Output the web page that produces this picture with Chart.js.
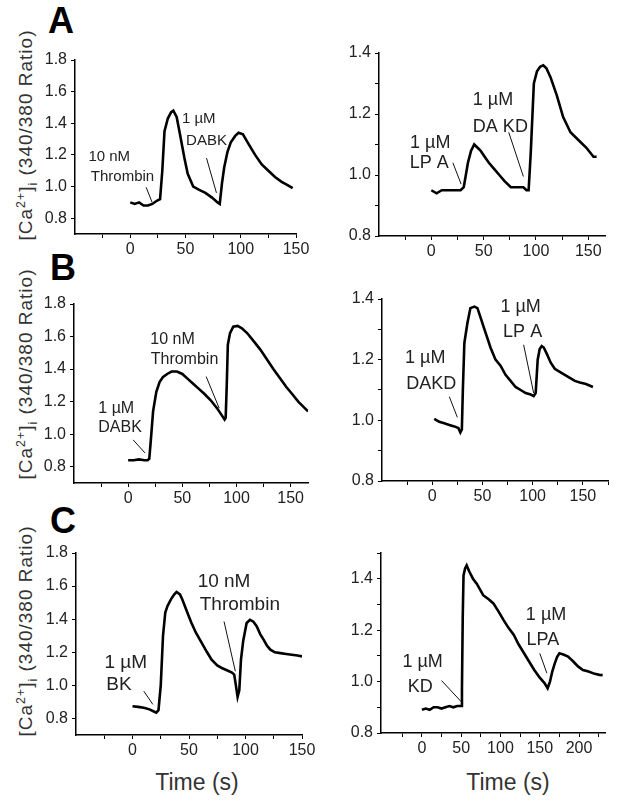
<!DOCTYPE html>
<html>
<head>
<meta charset="utf-8">
<script src="https://cdn.jsdelivr.net/npm/chart.js@4.4.1/dist/chart.umd.min.js"></script>
<style>
body { margin: 0; background: #fff; width: 618px; height: 808px; position: relative; overflow: hidden; font-family: 'Liberation Sans', Arial, sans-serif; }
canvas { position: absolute; }
.letter { position: absolute; font-weight: bold; font-size: 36px; line-height: 36px; color: #000; }
.ytitle { position: absolute; white-space: nowrap; font-size: 19px; letter-spacing: 1px; color: #333; transform: translate(-50%, -50%) rotate(-90deg); }
.xtitle { position: absolute; white-space: nowrap; font-size: 23px; line-height: 23px; color: #333; transform: translateX(-50%); }
sup, sub { font-size: 0.65em; line-height: 0; }
</style>
</head>
<body>
<div class="letter" style="left:48px;top:3px">A</div>
<div class="letter" style="left:50px;top:250px">B</div>
<div class="letter" style="left:50px;top:503px">C</div>
<div class="ytitle" style="left:26px;top:135px">[Ca<sup>2+</sup>]<sub>i</sub> (340/380 Ratio)</div>
<div class="ytitle" style="left:26px;top:374px">[Ca<sup>2+</sup>]<sub>i</sub> (340/380 Ratio)</div>
<div class="ytitle" style="left:26px;top:631px">[Ca<sup>2+</sup>]<sub>i</sub> (340/380 Ratio)</div>
<div class="xtitle" style="left:197px;top:771px">Time (s)</div>
<div class="xtitle" style="left:508px;top:771px">Time (s)</div>
<canvas id="aLeft"></canvas>
<canvas id="aRight"></canvas>
<canvas id="bLeft"></canvas>
<canvas id="bRight"></canvas>
<canvas id="cLeft"></canvas>
<canvas id="cRight"></canvas>
<script>
// traces: time (s) and 340/380 ratio
const aLeftT = [0, 4, 8, 12, 16, 20, 24, 27, 29, 31, 34, 37, 39, 42, 45, 49, 52, 57, 62, 68, 74, 79, 81, 83, 85, 88, 91, 95, 98, 102, 107, 113, 119, 125, 131, 137, 142, 147];
const aLeftV = [0.90, 0.89, 0.90, 0.88, 0.88, 0.89, 0.91, 0.92, 1.10, 1.35, 1.43, 1.47, 1.48, 1.44, 1.33, 1.18, 1.08, 1.00, 0.98, 0.96, 0.93, 0.90, 0.89, 1.02, 1.12, 1.22, 1.28, 1.32, 1.34, 1.33, 1.27, 1.20, 1.14, 1.10, 1.06, 1.03, 1.01, 0.99];

const aRightT = [0, 5, 10, 15, 20, 25, 28, 31, 33, 35, 38, 41, 44, 47, 51, 55, 60, 65, 70, 76, 82, 88, 91, 93, 95, 98, 101, 104, 107, 110, 114, 120, 126, 133, 142, 148, 155, 158];
const aRightV = [0.95, 0.94, 0.95, 0.95, 0.95, 0.95, 0.95, 0.96, 1.00, 1.04, 1.08, 1.10, 1.09, 1.08, 1.06, 1.04, 1.02, 1.00, 0.98, 0.96, 0.96, 0.96, 0.95, 0.95, 1.07, 1.30, 1.34, 1.355, 1.36, 1.35, 1.32, 1.26, 1.19, 1.14, 1.11, 1.09, 1.06, 1.06];

const bLeftT = [0, 5, 10, 15, 18, 19.5, 21, 23, 26, 29, 32, 36, 40, 45, 50, 55, 60, 65, 70, 76, 82, 86, 89, 90, 91, 92, 94, 97, 101, 105, 110, 116, 122, 128, 134, 140, 146, 151, 157, 163, 166];
const bLeftV = [0.84, 0.84, 0.845, 0.84, 0.84, 0.85, 0.97, 1.14, 1.26, 1.32, 1.35, 1.37, 1.385, 1.385, 1.37, 1.34, 1.31, 1.28, 1.25, 1.21, 1.16, 1.12, 1.09, 1.10, 1.30, 1.55, 1.62, 1.66, 1.665, 1.65, 1.62, 1.57, 1.52, 1.46, 1.40, 1.345, 1.29, 1.25, 1.20, 1.16, 1.14];

const bRightT = [2, 7, 12, 17, 22, 26, 28, 29.5, 30.5, 32, 35, 38, 42, 45, 48, 51, 55, 58, 63, 68, 73, 78, 83, 88, 93, 98, 101, 103, 105, 107, 109, 111, 114, 118, 122, 127, 132, 137, 142, 147, 153, 160];
const bRightV = [1.005, 0.995, 0.99, 0.985, 0.98, 0.975, 0.96, 0.97, 1.10, 1.255, 1.32, 1.37, 1.375, 1.37, 1.34, 1.31, 1.27, 1.24, 1.20, 1.18, 1.15, 1.13, 1.11, 1.10, 1.09, 1.085, 1.08, 1.09, 1.20, 1.235, 1.245, 1.24, 1.22, 1.19, 1.17, 1.16, 1.15, 1.14, 1.13, 1.125, 1.12, 1.11];

const cLeftT = [0, 5, 10, 15, 18, 21, 23, 25, 27, 29, 31, 34, 37, 39, 42, 44, 48, 52, 56, 61, 66, 70, 75, 79, 84, 88, 90, 91.5, 93, 94.5, 96, 98, 101, 104, 107, 110, 113, 116, 119, 122, 126, 131, 136, 141, 146, 150];
const cLeftV = [0.874, 0.87, 0.865, 0.855, 0.845, 0.835, 0.85, 1.00, 1.30, 1.44, 1.48, 1.52, 1.55, 1.565, 1.55, 1.52, 1.45, 1.38, 1.32, 1.26, 1.20, 1.155, 1.12, 1.105, 1.09, 1.077, 1.065, 1.00, 0.93, 0.97, 1.155, 1.27, 1.377, 1.396, 1.385, 1.356, 1.31, 1.276, 1.24, 1.216, 1.20, 1.195, 1.19, 1.185, 1.18, 1.175];

const cRightT = [0, 5, 10, 15, 20, 25, 30, 35, 40, 45, 50, 51, 52, 53, 55, 57, 60, 65, 70, 78, 85, 91, 98, 104, 110, 117, 123, 130, 136, 143, 150, 156, 160, 163, 166, 169, 172, 175, 180, 186, 192, 199, 205, 212, 220, 226, 230];
const cRightV = [0.89, 0.895, 0.89, 0.90, 0.90, 0.895, 0.90, 0.905, 0.90, 0.905, 0.905, 0.97, 1.25, 1.413, 1.44, 1.452, 1.43, 1.40, 1.38, 1.336, 1.32, 1.304, 1.27, 1.239, 1.21, 1.181, 1.145, 1.11, 1.08, 1.045, 1.015, 0.994, 0.974, 1.00, 1.04, 1.07, 1.095, 1.11, 1.105, 1.097, 1.08, 1.058, 1.045, 1.039, 1.03, 1.026, 1.025];

// tick values
const xTicks150 = [-25, 0, 25, 50, 75, 100, 125, 150];
const xTicks175 = [-25, 0, 25, 50, 75, 100, 125, 150, 175];
const xTicks225 = [-25, 0, 25, 50, 75, 100, 125, 150, 175, 200, 225];
const yTicksLeft = [0.8, 1.0, 1.2, 1.4, 1.6, 1.8];
const yTicksRight = [0.8, 0.9, 1.0, 1.1, 1.2, 1.3, 1.4];
const yTicksRightC = [0.8, 0.9, 1.0, 1.1, 1.2, 1.3, 1.4, 1.5];

// agonist labels [text, time, ratio] and pointer lines [t0, v0, t1, v1]
const aLeftNotes = [['10 nM', -19, 1.19], ['Thrombin', -7, 1.06], ['1 µM', 62, 1.43], ['DABK', 69, 1.29]];
const aLeftPtrs = [[14.4, 0.995, 19.8, 0.90], [69, 1.18, 78, 0.96]];
const aRightNotes = [['1 µM', -1, 1.105], ['LP A', -2, 1.04], ['1 µM', 59, 1.246], ['DA KD', 66, 1.157]];
const aRightPtrs = [[20.6, 1.04, 28.5, 0.97], [74, 1.14, 88, 0.995]];
const bLeftNotes = [['1 µM', -11, 1.16], ['DABK', -7.5, 1.04], ['10 nM', 41, 1.58], ['Thrombin', 52, 1.46]];
const bLeftPtrs = [[4.6, 0.965, 15.5, 0.885], [72, 1.354, 84, 1.16]];
const bRightNotes = [['1 µM', -7, 1.205], ['DAKD', -1, 1.12], ['1 µM', 88, 1.375], ['LP A', 90, 1.29]];
const bRightPtrs = [[17, 1.078, 25, 1.01], [91, 1.249, 101, 1.09]];
const cLeftNotes = [['1 µM', -6, 1.137], ['BK', -12, 1.005], ['10 nM', 81, 1.627], ['Thrombin', 95, 1.487]];
const cLeftPtrs = [[10, 0.965, 18, 0.885], [81, 1.386, 91, 1.085]];
const cRightNotes = [['1 µM', 1, 1.077], ['KD', -2, 0.98], ['1 µM', 158, 1.259], ['LPA', 154, 1.162]];
const cRightPtrs = [[25, 1.004, 50, 0.922], [150, 1.11, 159, 1.033]];

Chart.defaults.font.family = "'Liberation Sans', Arial, sans-serif";
Chart.defaults.color = '#222';
Chart.defaults.animation = false;

const notesPlugin = {
    id: 'notes',
    afterDatasetsDraw(chart, args, opts) {
        const ctx = chart.ctx;
        const xs = chart.scales.x, ys = chart.scales.y;
        ctx.save();
        ctx.fillStyle = '#222';
        ctx.font = opts.size + "px 'Liberation Sans', Arial, sans-serif";
        ctx.textAlign = 'center';
        ctx.textBaseline = 'middle';
        opts.notes.forEach(function (n) {
            ctx.fillText(n[0], xs.getPixelForValue(n[1]), ys.getPixelForValue(n[2]));
        });
        ctx.restore();
    }
};

function makePanel(id, area, xMin, xMax, xTicks, yMin, yMax, yTicks, times, values, ptrs, notes, noteSize) {
    const canvas = document.getElementById(id);
    const left = area[0] - 50, top = area[1] - 14;
    canvas.width = area[2] + 22 - left;
    canvas.height = area[3] + 30 - top;
    canvas.style.left = left + 'px';
    canvas.style.top = top + 'px';

    let datasets = [{
        data: times.map(function (t, i) { return { x: t, y: values[i] } }),
        borderColor: '#000',
        borderWidth: 2.6,
        pointRadius: 0,
        tension: 0
    }];
    ptrs.forEach(function (p) {
        datasets.push({
            data: [{ x: p[0], y: p[1] }, { x: p[2], y: p[3] }],
            borderColor: '#111',
            borderWidth: 1,
            pointRadius: 0
        });
    });

    new Chart(canvas, {
        type: 'line',
        data: { datasets: datasets },
        options: {
            responsive: false,
            devicePixelRatio: 1,
            layout: { padding: { left: 0, top: 14, right: 22, bottom: 0 } },
            plugins: {
                legend: { display: false },
                tooltip: { enabled: false },
                notes: { notes: notes, size: noteSize }
            },
            scales: {
                x: {
                    type: 'linear',
                    min: xMin,
                    max: xMax,
                    afterBuildTicks: function (s) { s.ticks = xTicks.map(function (v) { return { value: v } }) },
                    afterFit: function (s) { s.height = 30 },
                    ticks: {
                        autoSkip: false,
                        maxRotation: 0,
                        padding: 2,
                        font: { size: 16 },
                        callback: function (v) { return (v >= 0 && v % 50 === 0) ? String(v) : '' }
                    },
                    grid: { drawOnChartArea: false, drawTicks: true, tickLength: 4, color: '#000' },
                    border: { display: true, color: '#000', width: 1.5 }
                },
                y: {
                    type: 'linear',
                    min: yMin,
                    max: yMax,
                    afterBuildTicks: function (s) { s.ticks = yTicks.map(function (v) { return { value: v } }) },
                    afterFit: function (s) { s.width = 50 },
                    ticks: {
                        autoSkip: false,
                        padding: 4,
                        font: { size: 16 },
                        callback: function (v) { return Math.round(v * 10) % 2 === 0 ? v.toFixed(1) : '' }
                    },
                    grid: { drawOnChartArea: false, drawTicks: true, tickLength: 4, color: '#000' },
                    border: { display: true, color: '#000', width: 1.5 }
                }
            }
        },
        plugins: [notesPlugin]
    });
}

// chart areas: [left, top, right, bottom] in page pixels
makePanel('aLeft', [75, 60, 296, 234], -50, 150, xTicks150, 0.7, 1.8, yTicksLeft, aLeftT, aLeftV, aLeftPtrs, aLeftNotes, 15);
makePanel('aRight', [379, 53, 605, 236], -50, 166, xTicks150, 0.8, 1.4, yTicksRight, aRightT, aRightV, aRightPtrs, aRightNotes, 18);
makePanel('bLeft', [74, 304, 308, 483], -50, 166, xTicks150, 0.7, 1.8, yTicksLeft, bLeftT, bLeftV, bLeftPtrs, bLeftNotes, 16);
makePanel('bRight', [382, 299, 608, 481], -50, 175, xTicks175, 0.8, 1.4, yTicksRight, bRightT, bRightV, bRightPtrs, bRightNotes, 18);
makePanel('cLeft', [76, 553, 302, 735], -50, 150, xTicks150, 0.7, 1.8, yTicksLeft, cLeftT, cLeftV, cLeftPtrs, cLeftNotes, 19);
makePanel('cRight', [381, 553, 605, 733], -52, 233, xTicks225, 0.8, 1.5, yTicksRightC, cRightT, cRightV, cRightPtrs, cRightNotes, 18);
</script>
</body>
</html>
